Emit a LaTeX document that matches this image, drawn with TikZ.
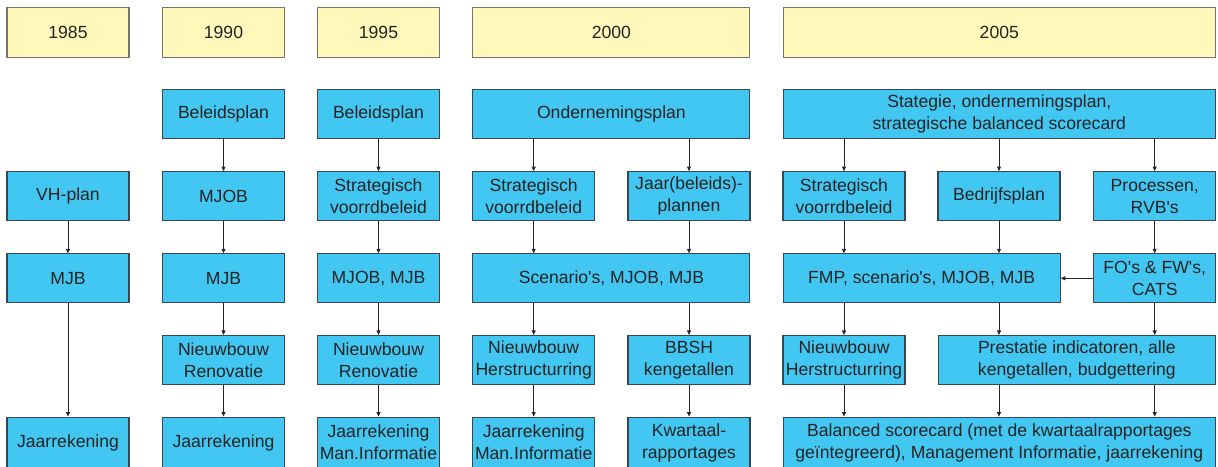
\documentclass[tikz,border=0pt]{standalone}
\usepackage{fontspec}
\setmainfont{Liberation Sans}
\usetikzlibrary{arrows.meta}
\definecolor{yearfill}{RGB}{255,248,186}
\definecolor{yearedge}{RGB}{120,115,105}
\definecolor{boxfill}{RGB}{66,199,242}
\definecolor{boxedge}{RGB}{55,70,80}
\definecolor{ink}{RGB}{35,35,35}
\newcommand{\apos}{\textquotesingle}
\begin{document}
\begin{tikzpicture}[x=1pt,y=-1pt,
  base/.style={line width=1.1pt, text=ink, align=center, inner sep=0pt,
    font=\fontsize{17.6}{22}\selectfont},
  year/.style={base, draw=yearedge, fill=yearfill, minimum height=50pt},
  blk/.style={base, draw=boxedge, fill=boxfill, minimum height=49pt},
  w1/.style={minimum width=122pt},
  w2/.style={minimum width=277pt},
  w3/.style={minimum width=432pt},
  flow/.style={-{Triangle[length=4.5pt,width=4pt]}, line width=0.8pt, draw=black!85},
]
\useasboundingbox (0,0) rectangle (1218,466);

% year header
\node[year,w1] (y85) at (68,32.3) {1985};
\node[year,w1] (y90) at (223.5,32.3) {1990};
\node[year,w1] (y95) at (378.5,32.3) {1995};
\node[year,w2] (y00) at (611.4,32.3) {2000};
\node[year,w3] (y05) at (999.3,32.3) {2005};

% row 1
\node[blk,w1] (bp90) at (223.5,114) {Beleidsplan};
\node[blk,w1] (bp95) at (378.5,114) {Beleidsplan};
\node[blk,w2] (ond) at (611.4,114) {Ondernemingsplan};
\node[blk,w3] (str05) at (999.3,114) {Stategie, ondernemingsplan,\\strategische balanced scorecard};

% row 2
\node[blk,w1] (vh85) at (68,196.2) {VH-plan};
\node[blk,w1] (mjob90) at (223.5,196.2) {MJOB};
\node[blk,w1] (sv95) at (378.5,196.2) {Strategisch\\voorrdbeleid};
\node[blk,w1] (sv00) at (533.7,196.2) {Strategisch\\voorrdbeleid};
\node[blk,w1] (jbp00) at (689,196.2) {Jaar(beleids)-\\plannen};
\node[blk,w1] (sv05) at (844,196.2) {Strategisch\\voorrdbeleid};
\node[blk,w1] (bdp05) at (999,196.2) {Bedrijfsplan};
\node[blk,w1] (proc05) at (1154.7,196.2) {Processen,\\RVB\apos s};

% row 3
\node[blk,w1] (mjb85) at (68,278.3) {MJB};
\node[blk,w1] (mjb90) at (223.5,278.3) {MJB};
\node[blk,w1] (mm95) at (378.5,278.3) {MJOB, MJB};
\node[blk,w2] (scen00) at (611.4,278.3) {Scenario\apos s, MJOB, MJB};
\node[blk,w2] (fmp05) at (921.7,278.3) {FMP, scenario\apos s, MJOB, MJB};
\node[blk,w1] (fo05) at (1154.7,278.3) {FO\apos s \& FW\apos s,\\CATS};

% row 4
\node[blk,w1] (nr90) at (223.5,360) {Nieuwbouw\\Renovatie};
\node[blk,w1] (nr95) at (378.5,360) {Nieuwbouw\\Renovatie};
\node[blk,w1] (nh00) at (533.7,360) {Nieuwbouw\\Herstructurring};
\node[blk,w1] (bbsh00) at (689,360) {BBSH\\kengetallen};
\node[blk,w1] (nh05) at (844,360) {Nieuwbouw\\Herstructurring};
\node[blk,w2] (pi05) at (1076.8,360) {Prestatie indicatoren, alle\\kengetallen, budgettering};

% row 5
\node[blk,w1,minimum height=51pt] (jr85) at (68,442.6) {Jaarrekening};
\node[blk,w1,minimum height=51pt] (jr90) at (223.5,442.6) {Jaarrekening};
\node[blk,w1,minimum height=51pt] (jr95) at (378.5,442.6) {Jaarrekening\\Man.Informatie};
\node[blk,w1,minimum height=51pt] (jr00) at (533.7,442.6) {Jaarrekening\\Man.Informatie};
\node[blk,w1,minimum height=51pt] (kw00) at (689,442.6) {Kwartaal-\\rapportages};
\node[blk,w3,minimum height=51pt] (bsc05) at (999.3,442.6) {Balanced scorecard (met de kwartaalrapportages\\geïntegreerd), Management Informatie, jaarrekening};

% 1985
\draw[flow] (vh85) -- (mjb85);
\draw[flow] (mjb85) -- (jr85);
% 1990
\draw[flow] (bp90) -- (mjob90);
\draw[flow] (mjob90) -- (mjb90);
\draw[flow] (mjb90) -- (nr90);
\draw[flow] (nr90) -- (jr90);
% 1995
\draw[flow] (bp95) -- (sv95);
\draw[flow] (sv95) -- (mm95);
\draw[flow] (mm95) -- (nr95);
\draw[flow] (nr95) -- (jr95);
% 2000
\draw[flow] (ond.south -| sv00) -- (sv00.north);
\draw[flow] (ond.south -| jbp00) -- (jbp00.north);
\draw[flow] (sv00.south) -- (scen00.north -| sv00);
\draw[flow] (jbp00.south) -- (scen00.north -| jbp00);
\draw[flow] (scen00.south -| nh00) -- (nh00.north);
\draw[flow] (scen00.south -| bbsh00) -- (bbsh00.north);
\draw[flow] (nh00) -- (jr00);
\draw[flow] (bbsh00) -- (kw00);
% 2005
\draw[flow] (str05.south -| sv05) -- (sv05.north);
\draw[flow] (str05.south -| bdp05) -- (bdp05.north);
\draw[flow] (str05.south -| proc05) -- (proc05.north);
\draw[flow] (sv05.south) -- (fmp05.north -| sv05);
\draw[flow] (bdp05.south) -- (fmp05.north -| bdp05);
\draw[flow] (proc05) -- (fo05);
\draw[flow] (fo05.west) -- (fmp05.east |- fo05.west);
\draw[flow] (fmp05.south -| nh05) -- (nh05.north);
\draw[flow] (fmp05.south -| bdp05) -- (pi05.north -| bdp05);
\draw[flow] (fo05.south) -- (pi05.north -| fo05);
\draw[flow] (nh05.south) -- (bsc05.north -| nh05);
\draw[flow] (pi05.south -| bdp05) -- (bsc05.north -| bdp05);
\draw[flow] (pi05.south -| fo05) -- (bsc05.north -| fo05);
\end{tikzpicture}
\end{document}
